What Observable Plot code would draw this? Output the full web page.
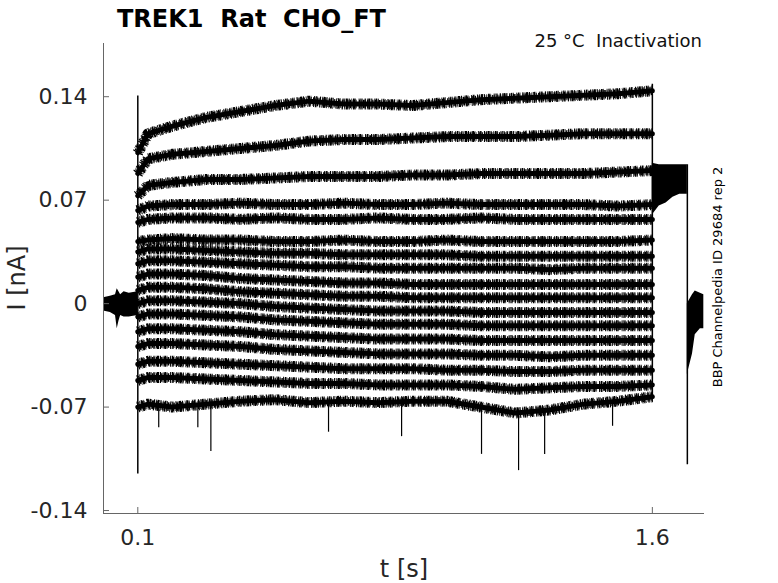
<!DOCTYPE html>
<html><head><meta charset="utf-8">
<script src="https://cdn.jsdelivr.net/npm/d3@7"></script>
<script src="https://cdn.jsdelivr.net/npm/@observablehq/plot@0.6"></script>
<style>
body{margin:0;background:#fff}
#chart{width:778px;height:583px}
</style>
</head><body><div id="chart"></div>
<script>
// sample times of the test pulse (s)
const times = [0.1, 0.13, 0.2, 0.3, 0.4, 0.5, 0.6, 0.7, 0.8, 0.9, 1.0, 1.1, 1.2, 1.3, 1.4, 1.5, 1.6];
// current (nA) of each sweep during the pulse
const trace01 = [0.102, 0.115, 0.120, 0.126, 0.130, 0.134, 0.137, 0.135, 0.135, 0.134, 0.136, 0.138, 0.139, 0.140, 0.141, 0.142, 0.144];
const trace02 = [0.088, 0.098, 0.101, 0.103, 0.105, 0.107, 0.110, 0.111, 0.111, 0.112, 0.113, 0.113, 0.113, 0.114, 0.115, 0.115, 0.115];
const trace03 = [0.073, 0.080, 0.082, 0.084, 0.084, 0.085, 0.086, 0.086, 0.086, 0.087, 0.087, 0.088, 0.088, 0.088, 0.088, 0.089, 0.090];
const trace04 = [0.063, 0.066, 0.067, 0.067, 0.068, 0.067, 0.067, 0.068, 0.067, 0.067, 0.068, 0.067, 0.067, 0.067, 0.067, 0.066, 0.067];
const trace05 = [0.055, 0.057, 0.058, 0.058, 0.057, 0.058, 0.057, 0.057, 0.058, 0.057, 0.057, 0.058, 0.057, 0.057, 0.057, 0.057, 0.057];
const trace06 = [0.042, 0.043, 0.044, 0.043, 0.043, 0.042, 0.042, 0.043, 0.042, 0.042, 0.043, 0.042, 0.042, 0.042, 0.042, 0.042, 0.043];
const trace07 = [0.035, 0.037, 0.037, 0.036, 0.035, 0.034, 0.034, 0.033, 0.033, 0.033, 0.033, 0.032, 0.032, 0.032, 0.032, 0.032, 0.032];
const trace08 = [0.027, 0.029, 0.029, 0.028, 0.027, 0.026, 0.025, 0.025, 0.024, 0.024, 0.024, 0.024, 0.024, 0.023, 0.024, 0.024, 0.024];
const trace09 = [0.018, 0.020, 0.020, 0.019, 0.017, 0.016, 0.015, 0.014, 0.014, 0.013, 0.013, 0.013, 0.013, 0.013, 0.013, 0.013, 0.013];
const trace10 = [0.009, 0.011, 0.011, 0.010, 0.008, 0.007, 0.006, 0.005, 0.005, 0.004, 0.004, 0.004, 0.004, 0.004, 0.004, 0.004, 0.004];
const trace11 = [0.000, 0.002, 0.002, 0.001, 0.000, -0.002, -0.003, -0.004, -0.005, -0.005, -0.005, -0.006, -0.006, -0.006, -0.006, -0.006, -0.006];
const trace12 = [-0.009, -0.007, -0.007, -0.008, -0.009, -0.011, -0.012, -0.013, -0.014, -0.014, -0.014, -0.015, -0.015, -0.015, -0.015, -0.015, -0.015];
const trace13 = [-0.019, -0.017, -0.017, -0.018, -0.019, -0.021, -0.022, -0.023, -0.024, -0.024, -0.024, -0.025, -0.025, -0.025, -0.025, -0.025, -0.025];
const trace14 = [-0.029, -0.027, -0.027, -0.028, -0.029, -0.031, -0.032, -0.033, -0.034, -0.034, -0.034, -0.035, -0.035, -0.036, -0.035, -0.035, -0.035];
const trace15 = [-0.041, -0.039, -0.039, -0.040, -0.041, -0.042, -0.043, -0.044, -0.044, -0.044, -0.045, -0.045, -0.046, -0.046, -0.045, -0.045, -0.045];
const trace16 = [-0.052, -0.050, -0.050, -0.051, -0.052, -0.053, -0.054, -0.054, -0.055, -0.055, -0.055, -0.056, -0.058, -0.057, -0.056, -0.056, -0.055];
const trace17 = [-0.070, -0.068, -0.070, -0.068, -0.066, -0.065, -0.067, -0.066, -0.067, -0.066, -0.066, -0.070, -0.074, -0.072, -0.068, -0.066, -0.063];
const traces = [trace01, trace02, trace03, trace04, trace05, trace06, trace07, trace08, trace09,
  trace10, trace11, trace12, trace13, trace14, trace15, trace16, trace17];

// holding level before the pulse: envelope of all sweeps
const preTimes = [0, 0.02, 0.035, 0.04, 0.045, 0.05, 0.06, 0.075, 0.1];
const preHigh  = [0.004, 0.005, 0.006, 0.010, 0.008, 0.006, 0.008, 0.007, 0.008];
const preLow   = [-0.005, -0.006, -0.008, -0.017, -0.012, -0.008, -0.009, -0.009, -0.008];
// tail after the pulse: envelope of all sweeps
const tailTimes = [1.6, 1.62, 1.64, 1.66, 1.68, 1.702];
const tailHigh  = [0.095, 0.094, 0.094, 0.094, 0.094, 0.094];
const tailLow   = [0.060, 0.066, 0.068, 0.072, 0.074, 0.074];
// return to holding after the tail
const postTimes = [1.702, 1.717, 1.725, 1.74, 1.75];
const postHigh  = [0.000, 0.006, 0.0085, 0.007, 0.006];
const postLow   = [-0.048, -0.034, -0.021, -0.017, -0.017];
// vertical jumps (capacitive transients and step edges)
const jumpTimes = [0.1, 1.6, 1.702];
const jumpHigh  = [0.1404, 0.1485, 0.094];
const jumpLow   = [-0.1153, -0.063, -0.109];
// downward spikes on the lowest sweeps
const spikeTimes = [0.161, 0.275, 0.313, 0.656, 0.869, 1.102, 1.210, 1.286, 1.484];
const spikeTop   = [-0.068, -0.069, -0.068, -0.067, -0.066, -0.069, -0.073, -0.072, -0.066];
const spikeLow   = [-0.084, -0.084, -0.100, -0.087, -0.090, -0.102, -0.113, -0.102, -0.083];

const yTicks = [-0.14, -0.07, 0, 0.07, 0.14];
const yTickLabels = ["-0.14", "-0.07", "0", "0.07", "0.14"];
const xTicks = [0.1, 1.6];
const xTickLabels = ["0.1", "1.6"];

const traceRows = traces.flatMap((arr, k) => arr.map((v, i) => ({trace: k, t: times[i], v})));
const band = (ts, hi, lo) => ts.map((t, i) => ({t, hi: hi[i], lo: lo[i]}));
const preRows = band(preTimes, preHigh, preLow);
const tailRows = band(tailTimes, tailHigh, tailLow);
const postRows = band(postTimes, postHigh, postLow);
const jumpRows = band(jumpTimes, jumpHigh, jumpLow);
const spikeRows = band(spikeTimes, spikeTop, spikeLow);

const axisColor = "#666";
const textColor = "#262626";
// irregular dash patterns: give the thick strokes a jagged, noise-like edge
const hatchA = "0.8 0.6 1.2 1.4 0.7 0.5 1.6 0.9 0.6 2.1 1.1 0.7 0.8 1.3 1.9 0.6 0.7 1.0 1.4 0.8 0.6 2.4 0.9 0.5";
const hatchB = "1.1 1.7 0.6 0.9 1.8 0.6 0.7 2.6 0.9 0.8 1.3 0.5 0.6 1.9 1.2 1.1 0.7 0.6 2.2 0.8";

const svg = Plot.plot({
  width: 778, height: 583,
  marginLeft: 103, marginRight: 74, marginTop: 43, marginBottom: 70,
  x: {domain: [0, 1.752]},
  y: {domain: [-0.142, 0.176]},
  style: {fontFamily: "DejaVu Sans", background: "white", color: textColor, overflow: "visible"},
  marks: [
    Plot.areaY(preRows, {x: "t", y1: "lo", y2: "hi", fill: "black"}),
    Plot.areaY(tailRows, {x: "t", y1: "lo", y2: "hi", fill: "black"}),
    Plot.areaY(postRows, {x: "t", y1: "lo", y2: "hi", fill: "black"}),
    Plot.line(traceRows, {x: "t", y: "v", z: "trace", stroke: "black", strokeWidth: 11,
      strokeDasharray: hatchB, strokeLinecap: "butt"}),
    Plot.line(traceRows, {x: "t", y: "v", z: "trace", stroke: "black", strokeWidth: 8.5,
      strokeDasharray: hatchA, strokeLinecap: "butt"}),
    Plot.line(traceRows, {x: "t", y: "v", z: "trace", stroke: "black", strokeWidth: 5, strokeLinejoin: "round"}),
    Plot.ruleX(jumpRows, {x: "t", y1: "lo", y2: "hi", stroke: "black", strokeWidth: 1.5}),
    Plot.ruleX(spikeRows, {x: "t", y1: "lo", y2: "hi", stroke: "black", strokeWidth: 1.2}),
    Plot.ruleX([0], {stroke: axisColor}),
    Plot.ruleY([-0.142], {stroke: axisColor}),
    Plot.axisY(yTicks, {tickSize: -6, tickPadding: 22, fontSize: 22, label: null, stroke: axisColor, fill: textColor,
      tickFormat: d => yTickLabels[yTicks.indexOf(d)]}),
    Plot.axisX(xTicks, {tickSize: -6, tickPadding: 22, fontSize: 22, label: null, stroke: axisColor, fill: textColor,
      tickFormat: d => xTickLabels[xTicks.indexOf(d)]})
  ]
});
document.getElementById("chart").appendChild(svg);

const s = d3.select(svg);
s.append("text").attr("x", 117).attr("y", 27).attr("font-size", 24).attr("font-weight", "bold")
  .attr("text-anchor", "start").attr("fill", "black").style("white-space", "pre").text("TREK1  Rat  CHO_FT");
s.append("text").attr("x", 702).attr("y", 47).attr("font-size", 18).attr("text-anchor", "end")
  .attr("fill", "#111").style("white-space", "pre").text("25 °C  Inactivation");
s.append("text").attr("transform", "translate(722,277) rotate(-90)").attr("font-size", 13)
  .attr("text-anchor", "middle").attr("fill", "black").text("BBP Channelpedia ID 29684 rep 2");
s.append("text").attr("transform", "translate(25,278) rotate(-90)").attr("font-size", 24)
  .attr("text-anchor", "middle").attr("fill", textColor).text("I [nA]");
s.append("text").attr("x", 404).attr("y", 577).attr("font-size", 24)
  .attr("text-anchor", "middle").attr("fill", textColor).text("t [s]");
</script>
</body></html>
